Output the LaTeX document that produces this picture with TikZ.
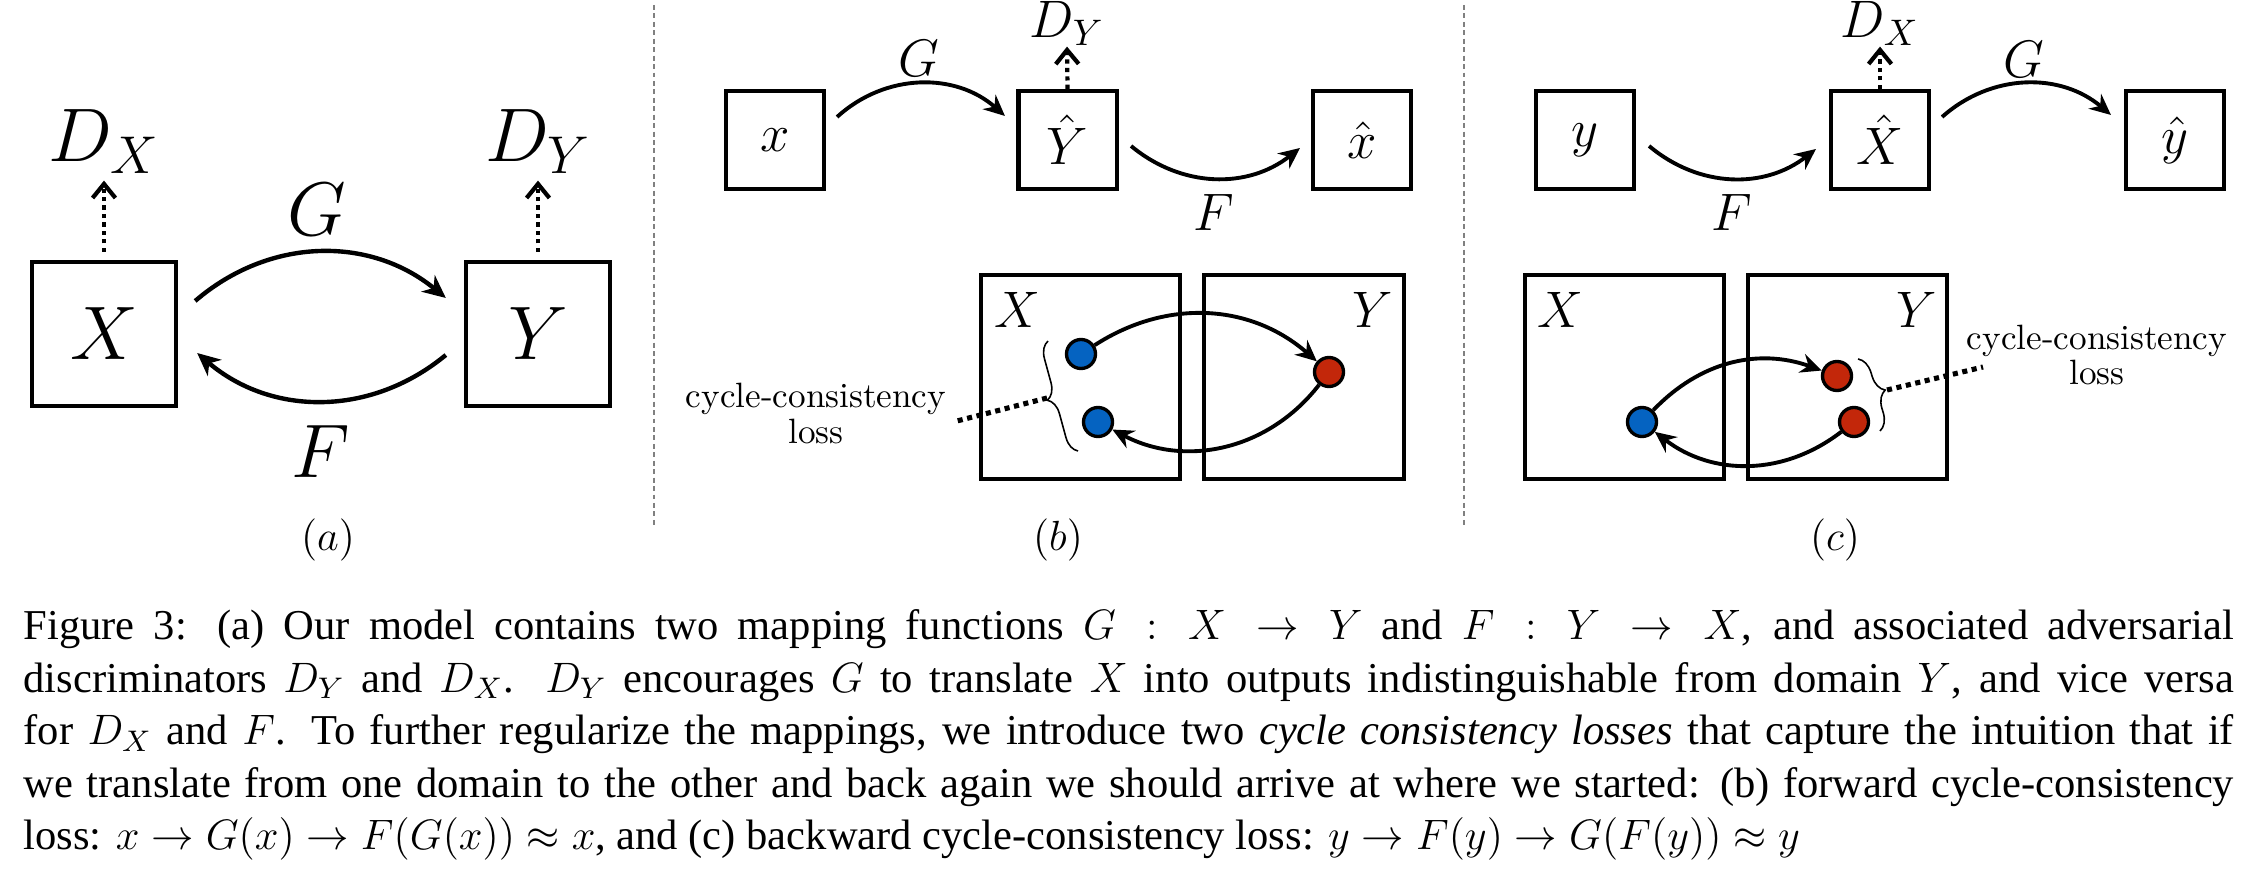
\RequirePackage{fix-cm}
\documentclass[tikz,border=0pt]{standalone}
\usepackage{fontspec}
\newfontfamily\capfont{Liberation Serif}
\usetikzlibrary{arrows.meta,decorations.pathreplacing}
\definecolor{dotblue}{HTML}{0563C1}
\definecolor{dotred}{HTML}{C3270A}
\begin{document}
\begin{tikzpicture}[x=0.01cm,y=-0.01cm,
  boxA/.style={draw, line width=1.2pt, minimum width=1.44cm, minimum height=1.44cm, inner sep=0pt, font=\fontsize{21.6pt}{26pt}\selectfont},
  boxS/.style={draw, line width=1.15pt, minimum width=0.98cm, minimum height=0.98cm, inner sep=0pt, font=\fontsize{15pt}{18pt}\selectfont},
  boxL/.style={draw, line width=1.15pt, minimum width=1.99cm, minimum height=2.04cm, inner sep=0pt},
  bigm/.style={inner sep=0pt, font=\fontsize{21.6pt}{26pt}\selectfont},
  medm/.style={inner sep=0pt, font=\fontsize{15pt}{18pt}\selectfont},
  boxlab/.style={inner sep=0pt, font=\fontsize{14.6pt}{17pt}\selectfont},
  sublab/.style={inner sep=0pt, font=\fontsize{12pt}{14pt}\selectfont},
  ptdot/.style={circle, draw=black, line width=0.95pt, minimum size=0.29cm, inner sep=0pt},
  bluedot/.style={ptdot, fill=dotblue},
  reddot/.style={ptdot, fill=dotred},
  arrA/.style={line width=1.25pt, -{Stealth[length=6.5pt,width=6pt,inset=2pt]}},
  arrS/.style={line width=1.1pt, -{Stealth[length=6pt,width=5.5pt,inset=2pt]}},
  dotarr/.style={line width=1.2pt, dash pattern=on 1.2pt off 1.2pt, -{Straight Barb[length=4pt,width=6.5pt]}},
  lossdot/.style={line width=1.45pt, dash pattern=on 1.45pt off 1.3pt},
  bracest/.style={decorate, decoration={brace, amplitude=#1}, line width=0.45pt},
  cyctext/.style={inner sep=0pt, align=center, font=\fontsize{10pt}{10pt}\selectfont},
  sepline/.style={draw=gray, line width=0.5pt, dash pattern=on 1.4pt off 1pt},
  capst/.style={anchor=base west, inner sep=0pt, text width=22.09cm, align=justify,
    font=\capfont\fontsize{12.1pt}{14.9pt}\selectfont}
]
\fill[white] (0,0) rectangle (2252,877);
\useasboundingbox (0,0) rectangle (2252,877);

% separators
\coordinate (s1a) at (654,5); \coordinate (s1b) at (654,525);
\coordinate (s2a) at (1464,5); \coordinate (s2b) at (1464,525);
\draw[sepline] (s1a) -- (s1b);
\draw[sepline] (s2a) -- (s2b);

% ---------- panel (a)
\node[boxA] (aX) at (104,334) {$X$};
\node[boxA] (aY) at (538,334) {$Y$};
\node[bigm, anchor=base] (aDX) at (104,162) {$D_X$};
\node[bigm, anchor=base] (aDY) at (538,162) {$D_Y$};
\draw[dotarr, shorten <=0.08cm, shorten >=0.065cm] (aX.north) -- (aDX.south);
\draw[dotarr, shorten <=0.08cm, shorten >=0.065cm] (aY.north) -- (aDY.south);
\draw[arrA] ([xshift=0.17cm,yshift=0.33cm]aX.east) to[bend left=40] ([xshift=-0.18cm,yshift=0.36cm]aY.west);
\draw[arrA] ([xshift=-0.18cm,yshift=-0.21cm]aY.west) to[bend left=40] ([xshift=0.19cm,yshift=-0.19cm]aX.east);
\node[bigm] (aG) at (317,210) {$G$};
\node[bigm] (aF) at (321,452) {$F$};
\node[sublab] (alab) at (328,540) {$(a)$};

% ---------- panel (b) top
\node[boxS] (bx) at (775,140) {$x$};
\node[boxS] (bYh) at (1067.5,140) {$\hat{Y}$};
\node[boxS] (bxh) at (1362,140) {$\hat{x}$};
\node[medm, anchor=base] (bDY) at (1067,38) {$D_Y$};
\draw[dotarr] (bYh.north) -- (bDY.south);
\draw[arrS] ([xshift=0.11cm,yshift=0.23cm]bx.east) to[bend left=42] ([xshift=-0.115cm,yshift=0.24cm]bYh.west);
\draw[arrS] ([xshift=0.125cm,yshift=-0.06cm]bYh.east) to[bend right=39] ([xshift=-0.11cm,yshift=-0.08cm]bxh.west);
\node[medm] (bG) at (919,58) {$G$};
\node[medm] (bF) at (1214,212) {$F$};

% ---------- panel (b) bottom
\node[boxL] (bX) at (1080.5,377) {};
\node[boxL] (bY) at (1304,377) {};
\node[boxlab] (bXl) at (1017,310) {$X$};
\node[boxlab] (bYl) at (1373,310) {$Y$};
\node[bluedot] (b1) at (1081,354) {};
\node[reddot] (b2) at (1329,372) {};
\node[bluedot] (b3) at (1098,422) {};
\draw[arrS] (b1) to[bend left=37] (b2);
\draw[arrS] (b2) to[bend left=40] (b3);
\coordinate (bbA) at (1078,451);
\coordinate (bbB) at (1048,341);
\draw[bracest=4.6pt] (bbA) -- (bbB);
\coordinate (btip) at (1047,398);
\coordinate (bL) at (957,421);
\draw[lossdot] (btip) -- (bL);
\node[cyctext] (bcyc) at (816,413.5) {cycle-consistency\\loss};
\node[sublab] (blab) at (1058,540) {$(b)$};

% ---------- panel (c) top
\node[boxS] (cy) at (1585,140) {$y$};
\node[boxS] (cXh) at (1880,140) {$\hat{X}$};
\node[boxS] (cyh) at (2175,140) {$\hat{y}$};
\node[medm, anchor=base] (cDX) at (1880,38) {$D_X$};
\draw[dotarr] (cXh.north) -- (cDX.south);
\draw[arrS] ([xshift=0.13cm,yshift=-0.06cm]cy.east) to[bend right=39] ([xshift=-0.13cm,yshift=-0.09cm]cXh.west);
\draw[arrS] ([xshift=0.11cm,yshift=0.23cm]cXh.east) to[bend left=41] ([xshift=-0.13cm,yshift=0.25cm]cyh.west);
\node[medm] (cF) at (1732,212) {$F$};
\node[medm] (cG) at (2024,59) {$G$};

% ---------- panel (c) bottom
\node[boxL] (cX) at (1624.5,377) {};
\node[boxL] (cY) at (1847.5,377) {};
\node[boxlab] (cXl) at (1560,310) {$X$};
\node[boxlab] (cYl) at (1917,310) {$Y$};
\node[bluedot] (c1) at (1642,422) {};
\node[reddot] (c2) at (1837,376) {};
\node[reddot] (c3) at (1854,422) {};
\draw[arrS] (c1) to[bend left=33] (c2);
\draw[arrS] (c3) to[bend left=37.6] (c1);
\coordinate (cbA) at (1858,359);
\coordinate (cbB) at (1880,431);
\draw[bracest=4.8pt] (cbA) -- (cbB);
\coordinate (ctip) at (1887,390);
\coordinate (cL) at (1983,367);
\draw[lossdot] (ctip) -- (cL);
\node[cyctext] (ccyc) at (2097,355.4) {cycle-consistency\\loss};
\node[sublab] (clab) at (1835,540) {$(c)$};

% ---------- caption
\node[capst] (cap) at (23,640) {\hyphenpenalty=10000 \exhyphenpenalty=10000 Figure 3: (a) Our model contains two mapping functions $G : X \rightarrow Y$ and $F : Y \rightarrow X$, and associated adversarial\linebreak
discriminators $D_Y$ and $D_X$. $D_Y$ encourages $G$ to translate $X$ into outputs indistinguishable from domain $Y$, and vice versa\linebreak
for $D_X$ and $F$. To further regularize the mappings, we introduce two \emph{cycle consistency losses} that capture the intuition that if\linebreak
we translate from one domain to the other and back again we should arrive at where we started: (b) forward cycle-consistency\linebreak
loss: $x \rightarrow G(x) \rightarrow F(G(x)) \approx x$, and (c) backward cycle-consistency loss: $y \rightarrow F(y) \rightarrow G(F(y)) \approx y$};
\end{tikzpicture}
\end{document}
